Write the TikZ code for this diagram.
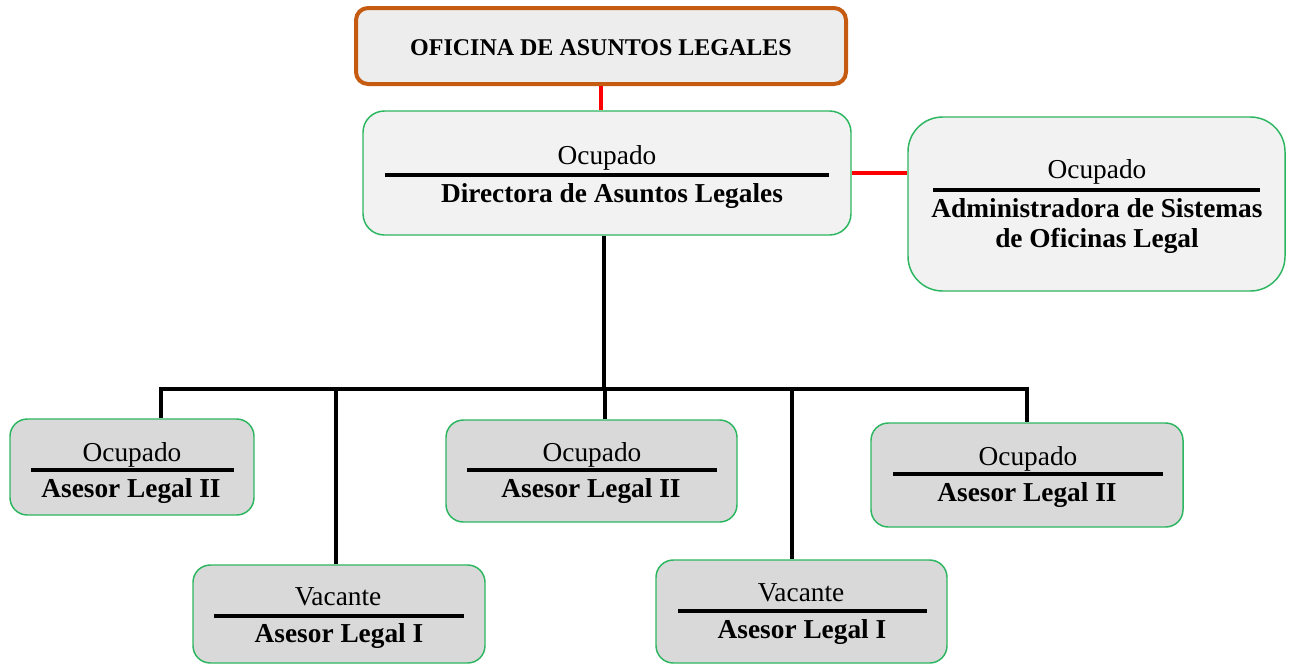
\documentclass[tikz,border=0pt]{standalone}
\usepackage{fontspec}
\setmainfont{Liberation Serif}
\usetikzlibrary{positioning}

\definecolor{bordeverde}{RGB}{44,182,96}
\definecolor{bordenaranja}{RGB}{197,90,17}
\definecolor{grisclaro}{RGB}{242,242,242}
\definecolor{grisoficina}{RGB}{237,237,237}
\definecolor{grismedio}{RGB}{217,217,217}

\tikzset{
  caja/.style={draw=bordeverde, line width=1.1pt, rounded corners=13pt, fill=grismedio, inner sep=0pt},
  estado/.style={anchor=base, font=\fontsize{20.5}{24}\selectfont},
  cargo/.style={anchor=base, font=\bfseries\fontsize{20.5}{23}\selectfont, align=center},
  separador/.style={line width=3pt},
  enlace/.style={line width=3pt},
  enlacerojo/.style={line width=3pt, red},
}

\begin{document}
\begin{tikzpicture}[x=0.75pt,y=-0.75pt]
    % Marco de la figura
    \useasboundingbox (0,0) rectangle (1291,665);

    % Oficina de Asuntos Legales
    \node[caja, draw=bordenaranja, line width=3pt, rounded corners=9pt, fill=grisoficina,
          minimum width=367.5pt, minimum height=57pt] (oficina) at (601,46) {};
    \node[cargo, font=\bfseries\fontsize{18}{22}\selectfont] (oficinaT) at (601,55) {OFICINA DE ASUNTOS LEGALES};

    % Directora de Asuntos Legales
    \node[caja, fill=grisclaro, rounded corners=16pt, minimum width=366pt, minimum height=93pt] (directora) at (607,173) {};
    \node[estado] (directoraE) at (607,164) {Ocupado};
    \draw[separador] (385,175) -- (829,175);
    \node[cargo] (directoraC) at (612,202) {Directora de Asuntos Legales};

    % Administradora de Sistemas
    \node[caja, fill=grisclaro, rounded corners=26pt, minimum width=282.75pt, minimum height=130.5pt] (admin) at (1096.5,204) {};
    \node[estado] (adminE) at (1097,178) {Ocupado};
    \draw[separador] (933,190) -- (1260,190);
    \node[cargo, anchor=north, inner sep=0pt] (adminC) at (1097,198) {Administradora de Sistemas\\de Oficinas Legal};

    % Asesores legales
    \node[caja, minimum width=183pt, minimum height=72pt] (asesor1) at (132,467) {};
    \node[estado] (asesor1E) at (132,461) {Ocupado};
    \draw[separador] (31,470) -- (234,470);
    \node[cargo] (asesor1C) at (131,497) {Asesor Legal II};

    \node[caja, minimum width=219pt, minimum height=73.5pt] (asesor2) at (339,614) {};
    \node[estado] (asesor2E) at (338,605) {Vacante};
    \draw[separador] (214,616) -- (464,616);
    \node[cargo] (asesor2C) at (339,642) {Asesor Legal I};

    \node[caja, minimum width=218.25pt, minimum height=76.5pt] (asesor3) at (591.5,471) {};
    \node[estado] (asesor3E) at (592,461) {Ocupado};
    \draw[separador] (467,470) -- (717,470);
    \node[cargo] (asesor3C) at (591,497) {Asesor Legal II};

    \node[caja, minimum width=218.25pt, minimum height=77.25pt] (asesor4) at (801.5,611.5) {};
    \node[estado] (asesor4E) at (801,601) {Vacante};
    \draw[separador] (678,611) -- (927,611);
    \node[cargo] (asesor4C) at (802,638) {Asesor Legal I};

    \node[caja, minimum width=234pt, minimum height=78pt] (asesor5) at (1027,475) {};
    \node[estado] (asesor5E) at (1028,465) {Ocupado};
    \draw[separador] (893,474) -- (1163,474);
    \node[cargo] (asesor5C) at (1027,501) {Asesor Legal II};

    % Conexiones
    \coordinate (b0) at (604,389);
    \coordinate (b1) at (161,389);
    \coordinate (b2) at (336,389);
    \coordinate (b3) at (605,389);
    \coordinate (b4) at (792,389);
    \coordinate (b5) at (1027,389);

    \draw[enlacerojo] (oficina.south) -- (oficina.south |- directora.north);
    \draw[enlacerojo] (directora.east) -- (directora.east -| admin.west);

    \draw[enlace] (b0 |- directora.south) -- (b0);
    \draw[enlace] (b1 |- asesor1.north) -- (b1) -- (b5) -- (b5 |- asesor5.north);
    \draw[enlace] (b2) -- (b2 |- asesor2.north);
    \draw[enlace] (b3) -- (b3 |- asesor3.north);
    \draw[enlace] (b4) -- (b4 |- asesor4.north);

\end{tikzpicture}
\end{document}
